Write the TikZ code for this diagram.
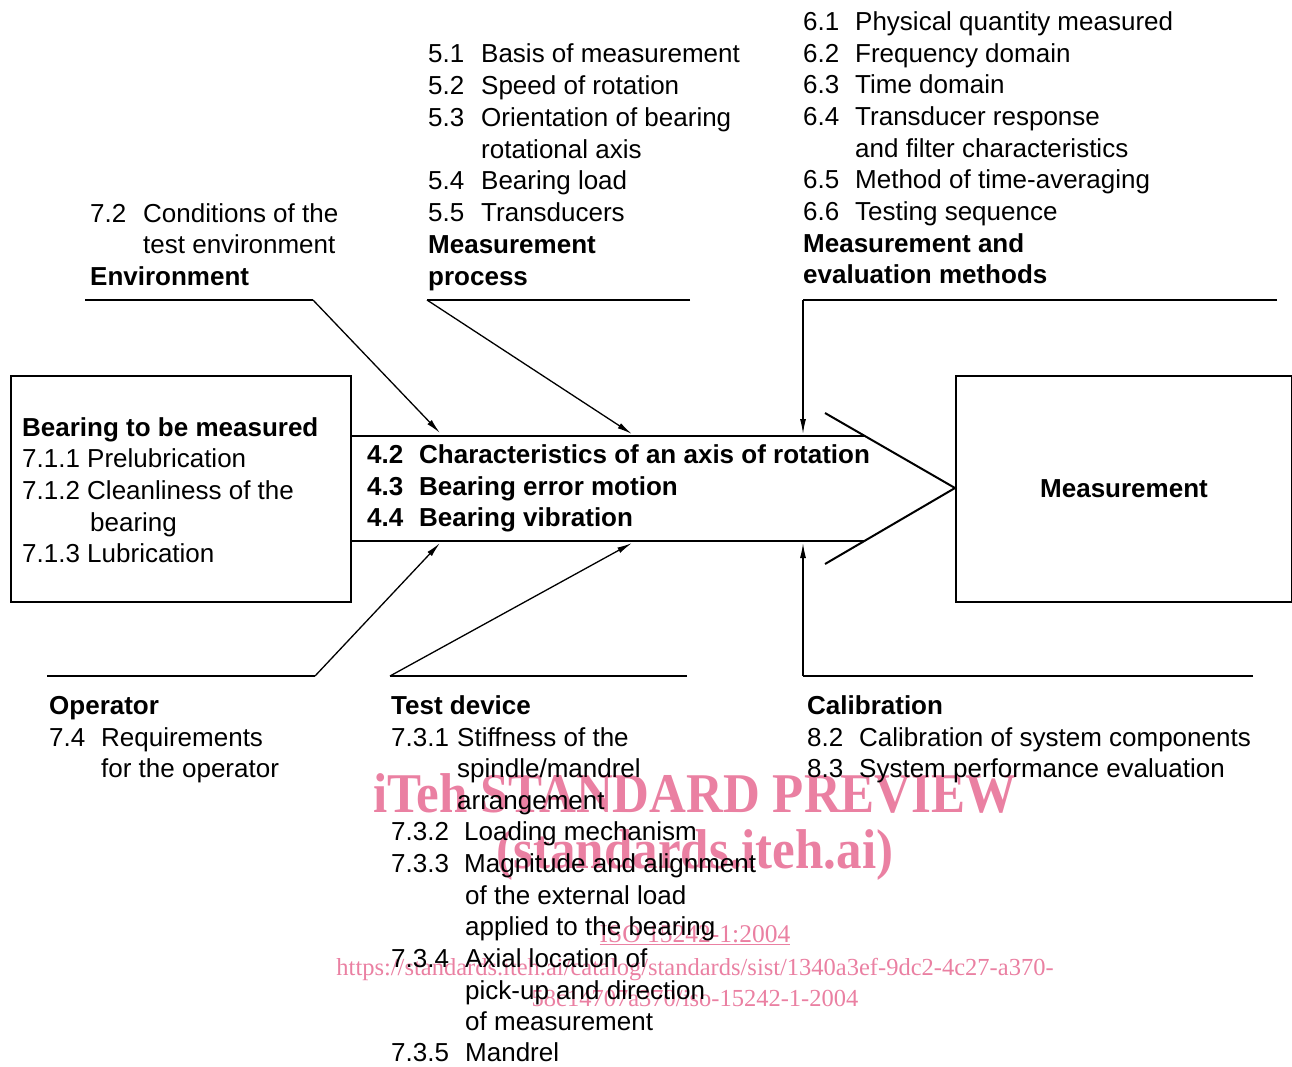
\documentclass[tikz,border=0pt]{standalone}
\usepackage{fontspec}
\setmainfont{Liberation Sans}
\newfontfamily\wmfont{Liberation Serif}
\usetikzlibrary{arrows.meta}
\definecolor{wm}{RGB}{234,128,162}
\newcommand\NB[2]{\makebox[#1pt][l]{#2}}
\begin{document}
\begin{tikzpicture}[x=1pt,y=-1pt,
  txt/.style={anchor=base west, inner sep=0pt, font=\fontsize{26}{31.6}\selectfont},
  bft/.style={anchor=base west, inner sep=0pt, font=\fontsize{26}{31.6}\selectfont\bfseries},
  wmbig/.style={anchor=base, inner sep=0pt, text=wm, font=\wmfont\bfseries\fontsize{51}{60}\selectfont},
  wmsmall/.style={anchor=base, inner sep=0pt, text=wm, font=\wmfont\fontsize{25.5}{30}\selectfont},
  wmurl/.style={anchor=base, inner sep=0pt, text=wm, font=\wmfont\fontsize{24.5}{30}\selectfont},
  box/.style={line width=2pt},
  branch/.style={line width=1.3pt},
  arr/.style={branch,-{Latex[length=15pt,width=6pt]}}]
\useasboundingbox (0,0) rectangle (1292,1066);
% watermark
\node[wmbig] (w1) at (695,812) {\scalebox{1}[1.1]{iTeh STANDARD PREVIEW}};
\node[wmbig] (w2) at (695,868) {\scalebox{1}[1.1]{(standards.iteh.ai)}};
\node[wmsmall] (w3) at (695,942) {\underline{ISO 15242-1:2004}};
\node[wmurl] (w4) at (695,975) {https://standards.iteh.ai/catalog/standards/sist/1340a3ef-9dc2-4c27-a370-};
\node[wmurl] (w5) at (695,1006) {58c14707a370/iso-15242-1-2004};
% boxes
\node[draw, box, anchor=north west, minimum width=340pt, minimum height=226pt, inner sep=0pt] (left) at (10,375) {};
\node[draw, box, anchor=north west, minimum width=336pt, minimum height=226pt, inner sep=0pt,
  font=\fontsize{26}{31.6}\selectfont\bfseries] (right) at (955,375) {Measurement};
% main arrow
\coordinate (tipR) at (955,488);
\coordinate (chT) at (825,413);
\coordinate (chB) at (825,564);
\draw[box] (left.east |- 0,436) -- (865,436);
\draw[box] (left.east |- 0,541) -- (864,541);
\draw[box] (chT) -- (tipR) -- (chB);
% top branches
\coordinate (envL) at (85,300);
\coordinate (envK) at (313,300);
\coordinate (envT) at (440,433);
\draw[branch] (envL) -- (envK);
\draw[arr] (envK) -- (envT);
\coordinate (prL) at (427,300);
\coordinate (prR) at (690,300);
\coordinate (prT) at (632,434);
\draw[branch] (prR) -- (prL);
\draw[arr] (prL) -- (prT);
\coordinate (meL) at (803,300);
\coordinate (meR) at (1277,300);
\coordinate (meT) at (803,434);
\draw[branch] (meR) -- (meL);
\draw[arr] (meL) -- (meT);
% bottom branches
\coordinate (opL) at (47,676);
\coordinate (opK) at (315,676);
\coordinate (opT) at (440,543);
\draw[branch] (opL) -- (opK);
\draw[arr] (opK) -- (opT);
\coordinate (tdL) at (390,676);
\coordinate (tdR) at (687,676);
\coordinate (tdT) at (632,543);
\draw[branch] (tdR) -- (tdL);
\draw[arr] (tdL) -- (tdT);
\coordinate (caL) at (803,676);
\coordinate (caR) at (1253,676);
\coordinate (caT) at (803,543);
\draw[branch] (caR) -- (caL);
\draw[arr] (caL) -- (caT);
% environment text
\node[txt] (e1) at (90,222) {\NB{53}{7.2}Conditions of the};
\node[txt] (e2) at (143,253) {test environment};
\node[bft] (e3) at (90,285) {Environment};
% measurement process
\node[txt] (p1) at (428,62) {\NB{53}{5.1}Basis of measurement};
\node[txt] (p2) at (428,94) {\NB{53}{5.2}Speed of rotation};
\node[txt] (p3) at (428,126) {\NB{53}{5.3}Orientation of bearing};
\node[txt] (p4) at (481,158) {rotational axis};
\node[txt] (p5) at (428,189) {\NB{53}{5.4}Bearing load};
\node[txt] (p6) at (428,221) {\NB{53}{5.5}Transducers};
\node[bft] (p7) at (428,253) {Measurement};
\node[bft] (p8) at (428,285) {process};
% methods
\node[txt] (m1) at (803,30) {\NB{52}{6.1}Physical quantity measured};
\node[txt] (m2) at (803,62) {\NB{52}{6.2}Frequency domain};
\node[txt] (m3) at (803,93) {\NB{52}{6.3}Time domain};
\node[txt] (m4) at (803,125) {\NB{52}{6.4}Transducer response};
\node[txt] (m5) at (855,157) {and filter characteristics};
\node[txt] (m6) at (803,188) {\NB{52}{6.5}Method of time-averaging};
\node[txt] (m7) at (803,220) {\NB{52}{6.6}Testing sequence};
\node[bft] (m8) at (803,252) {Measurement and};
\node[bft] (m9) at (803,283) {evaluation methods};
% left box text
\node[bft] (b1) at (22,436) {Bearing to be measured};
\node[txt] (b2) at (22,467) {7.1.1 Prelubrication};
\node[txt] (b3) at (22,499) {7.1.2 Cleanliness of the};
\node[txt] (b4) at (90,531) {bearing};
\node[txt] (b5) at (22,562) {7.1.3 Lubrication};
% centre text
\node[bft] (c1) at (367,463) {\NB{52}{4.2}Characteristics of an axis of rotation};
\node[bft] (c2) at (367,495) {\NB{52}{4.3}Bearing error motion};
\node[bft] (c3) at (367,526) {\NB{52}{4.4}Bearing vibration};
% operator
\node[bft] (o1) at (49,714) {Operator};
\node[txt] (o2) at (49,746) {\NB{52}{7.4}Requirements};
\node[txt] (o3) at (101,777) {for the operator};
% test device
\node[bft] (t1) at (391,714) {Test device};
\node[txt] (t2) at (391,746) {\NB{66}{7.3.1}Stiffness of the};
\node[txt] (t3) at (457,777) {spindle/mandrel};
\node[txt] (t4) at (457,809) {arrangement};
\node[txt] (t5) at (391,840) {\NB{73}{7.3.2}Loading mechanism};
\node[txt] (t6) at (391,872) {\NB{73}{7.3.3}Magnitude and alignment};
\node[txt] (t7) at (465,904) {of the external load};
\node[txt] (t8) at (465,935) {applied to the bearing};
\node[txt] (t9) at (391,967) {\NB{74}{7.3.4}Axial location of};
\node[txt] (t10) at (465,999) {pick-up and direction};
\node[txt] (t11) at (465,1030) {of measurement};
\node[txt] (t12) at (391,1061) {\NB{74}{7.3.5}Mandrel};
% calibration
\node[bft] (k1) at (807,714) {Calibration};
\node[txt] (k2) at (807,746) {\NB{52}{8.2}Calibration of system components};
\node[txt] (k3) at (807,777) {\NB{52}{8.3}System performance evaluation};
\end{tikzpicture}
\end{document}
